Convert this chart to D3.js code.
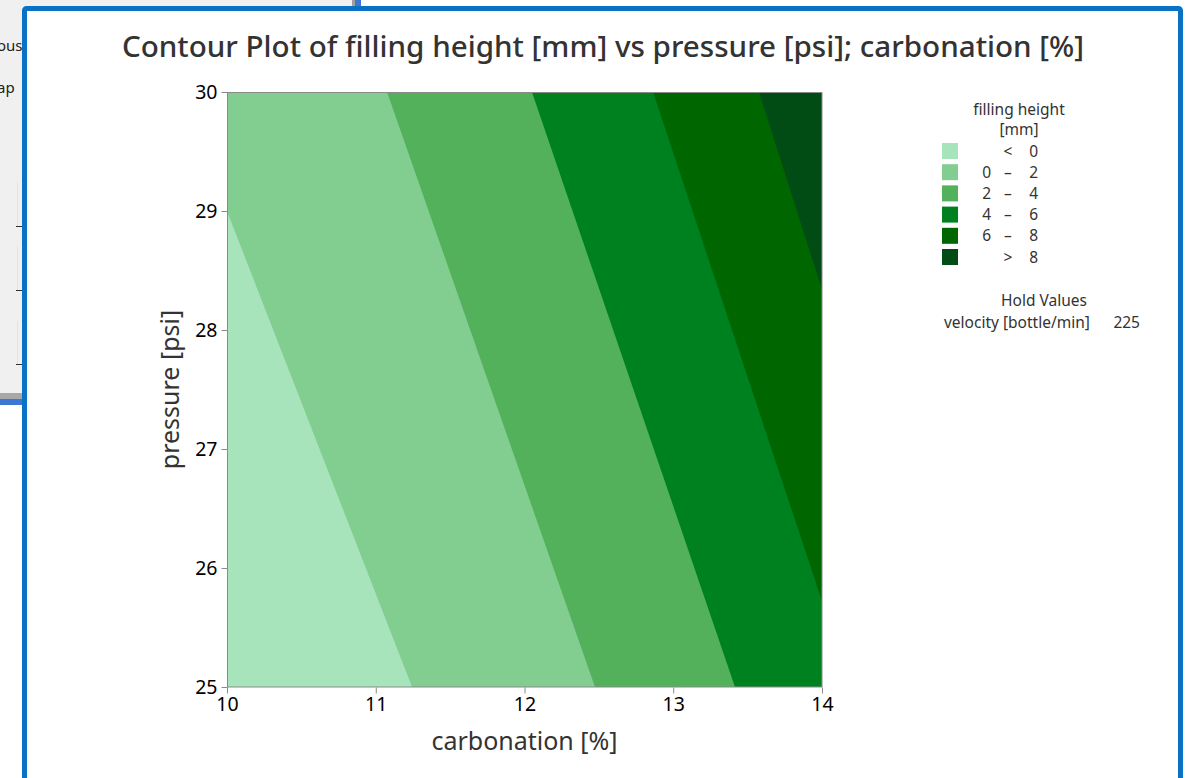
<!DOCTYPE html>
<html>
<head>
<meta charset="utf-8">
<script src="https://cdn.jsdelivr.net/npm/d3@7"></script>
<style>
  html, body { margin: 0; padding: 0; background: #ffffff; }
  svg { display: block; }
  text { font-family: "Noto Sans", "Open Sans", sans-serif; }
</style>
</head>
<body>
<svg id="chart" width="1196" height="778"></svg>
<script>
// Contour levels of filling height [mm] and the band fills between them
const levels = [0, 2, 4, 6, 8];
const bandColors = ["#a7e4bc", "#82cd90", "#53b05b", "#008120", "#006600", "#004c14"];
const bandLow = ["<", "0", "2", "4", "6", ">"];
const bandHigh = ["0", "2", "4", "6", "8", "8"];

// Each contour line is straight: start and end point as [carbonation, pressure]
const contourStart = [[10.0, 29.0], [11.076, 30], [12.05, 30], [12.864, 30], [13.576, 30]];
const contourEnd   = [[11.244, 25], [12.474, 25], [13.415, 25], [14.0, 25.72], [14.0, 28.34]];

// Axes
const xTicks = [10, 11, 12, 13, 14];
const yTicks = [25, 26, 27, 28, 29, 30];
const xDomain = [10, 14];
const yDomain = [25, 30];

// Hold value
const holdName = "velocity [bottle/min]";
const holdValue = 225;

const svg = d3.select("#chart");

// ---- surrounding window decoration ----
const bg = svg.append("g");
bg.append("rect").attr("x", 0).attr("y", 0).attr("width", 354).attr("height", 393).attr("fill", "#f0f0f0");
bg.append("rect").attr("x", 0).attr("y", 393).attr("width", 354).attr("height", 6).attr("fill", "#a8a8a8");
bg.append("rect").attr("x", 0).attr("y", 399).attr("width", 30).attr("height", 6).attr("fill", "#3d77d6");
bg.append("rect").attr("x", 352).attr("y", 0).attr("width", 3).attr("height", 8).attr("fill", "#a0a0a0");
bg.append("rect").attr("x", 355).attr("y", 0).attr("width", 6).attr("height", 8).attr("fill", "#3d77d6");
bg.append("text").attr("x", -3).attr("y", 51).attr("font-size", 15).attr("fill", "#222").text("ous");
bg.append("text").attr("x", -3).attr("y", 93).attr("font-size", 15).attr("fill", "#222").text("ap");
[[183, 226], [247, 290], [321, 364]].forEach(([a, b]) => {
  bg.append("line").attr("x1", 17.5).attr("x2", 17.5).attr("y1", a).attr("y2", b).attr("stroke", "#e2e2e2");
  bg.append("line").attr("x1", 16).attr("x2", 24).attr("y1", b + 0.5).attr("y2", b + 0.5).attr("stroke", "#333");
});

// ---- graph window ----
svg.append("rect")
  .attr("x", 24.5).attr("y", 8.5).attr("width", 1156).attr("height", 820)
  .attr("rx", 2)
  .attr("fill", "#ffffff").attr("stroke", "#0a72c4").attr("stroke-width", 5);

// Title
svg.append("text")
  .attr("x", 603).attr("y", 57)
  .attr("text-anchor", "middle")
  .attr("font-size", 29.6).attr("font-weight", 500).attr("fill", "#333333")
  .text("Contour Plot of filling height [mm] vs pressure [psi]; carbonation [%]");

// ---- plot area ----
const plot = { left: 227, top: 92, width: 595, height: 595 };
const x = d3.scaleLinear().domain(xDomain).range([plot.left, plot.left + plot.width]);
const y = d3.scaleLinear().domain(yDomain).range([plot.top + plot.height, plot.top]);

svg.append("clipPath").attr("id", "plotClip")
  .append("rect")
  .attr("x", x(xDomain[0])).attr("y", y(yDomain[1]))
  .attr("width", x(xDomain[1]) - x(xDomain[0]))
  .attr("height", y(yDomain[0]) - y(yDomain[1]));

const bands = svg.append("g").attr("clip-path", "url(#plotClip)");

// lowest band covers everything; each level paints the region above it (to the right of its line)
bands.append("rect")
  .attr("x", x(xDomain[0])).attr("y", y(yDomain[1]))
  .attr("width", x(xDomain[1]) - x(xDomain[0]))
  .attr("height", y(yDomain[0]) - y(yDomain[1]))
  .attr("fill", bandColors[0]);

function cAt(s, e, p) {
  return s[0] + (p - s[1]) * (e[0] - s[0]) / (e[1] - s[1]);
}
const pHi = yDomain[1] + 1, pLo = yDomain[0] - 1, cFar = xDomain[1] + 1;
const area = d3.line().x(d => x(d[0])).y(d => y(d[1]));

levels.forEach((lv, i) => {
  const s = contourStart[i], e = contourEnd[i];
  const pts = [[cAt(s, e, pHi), pHi], [cAt(s, e, pLo), pLo], [cFar, pLo], [cFar, pHi]];
  bands.append("path")
    .attr("d", area(pts) + "Z")
    .attr("fill", bandColors[i + 1]);
});

// frame of the plot
svg.append("rect")
  .attr("x", plot.left + 0.5).attr("y", plot.top + 0.5)
  .attr("width", plot.width - 0.5).attr("height", plot.height - 0.5)
  .attr("fill", "none").attr("stroke", "#8a8a8a").attr("stroke-width", 1);

// axes
const xAxis = svg.append("g")
  .attr("transform", `translate(0,${plot.top + plot.height + 0.5})`)
  .call(d3.axisBottom(x).tickValues(xTicks).tickFormat(d3.format("d")).tickSize(6).tickSizeOuter(0));
const yAxis = svg.append("g")
  .attr("transform", `translate(${plot.left + 0.5},0)`)
  .call(d3.axisLeft(y).tickValues(yTicks).tickFormat(d3.format("d")).tickSize(6).tickSizeOuter(0));

[xAxis, yAxis].forEach(g => {
  g.select(".domain").remove();
  g.selectAll(".tick line").attr("stroke", "#8a8a8a");
  g.selectAll(".tick text")
    .attr("font-family", "'Noto Sans', sans-serif")
    .attr("font-size", 19.5).attr("fill", "#000");
});
xAxis.selectAll(".tick text").attr("dy", "0.95em").attr("y", 5);
yAxis.selectAll(".tick text").attr("x", -10).attr("dy", "0.34em");

// axis titles
svg.append("text")
  .attr("x", x(12)).attr("y", 750)
  .attr("text-anchor", "middle")
  .attr("font-size", 25).attr("fill", "#333333")
  .text("carbonation [%]");
svg.append("text")
  .attr("transform", `translate(179,${y(27.5)}) rotate(-90)`)
  .attr("text-anchor", "middle")
  .attr("font-size", 25).attr("fill", "#333333")
  .text("pressure [psi]");

// ---- legend ----
const legend = svg.append("g").attr("font-size", 15.5).attr("fill", "#333333");
legend.append("text").attr("x", 1019).attr("y", 115).attr("text-anchor", "middle").text("filling height");
legend.append("text").attr("x", 1019).attr("y", 135).attr("text-anchor", "middle").text("[mm]");

bandColors.forEach((col, i) => {
  const cy = 151 + i * 21.2;
  legend.append("rect").attr("x", 942).attr("y", cy - 8).attr("width", 16).attr("height", 16).attr("fill", col);
  const ty = cy + 5.5;
  const isEdge = bandLow[i] === "<" || bandLow[i] === ">";
  if (isEdge) {
    legend.append("text").attr("x", 1008).attr("y", ty).attr("text-anchor", "middle").text(bandLow[i]);
  } else {
    legend.append("text").attr("x", 991).attr("y", ty).attr("text-anchor", "end").text(bandLow[i]);
    legend.append("text").attr("x", 1008).attr("y", ty).attr("text-anchor", "middle").text("–");
  }
  legend.append("text").attr("x", 1038).attr("y", ty).attr("text-anchor", "end").text(bandHigh[i]);
});

legend.append("text").attr("x", 1044).attr("y", 306).attr("text-anchor", "middle").text("Hold Values");
legend.append("text").attr("x", 944).attr("y", 328).text(holdName);
legend.append("text").attr("x", 1140).attr("y", 328).attr("text-anchor", "end").text(holdValue);
</script>
</body>
</html>
